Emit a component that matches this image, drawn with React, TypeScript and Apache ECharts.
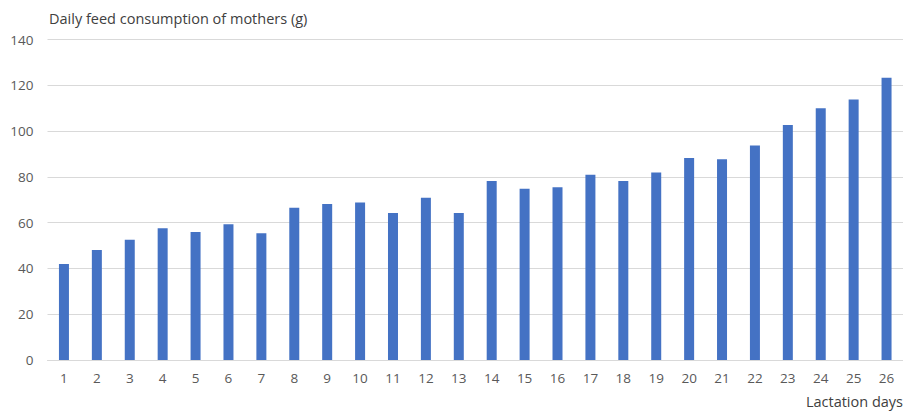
import React, { useEffect, useRef } from "react";
import * as echarts from "echarts";

// Lactation day labels
const days: string[] = [
  "1", "2", "3", "4", "5", "6", "7", "8", "9", "10", "11", "12", "13",
  "14", "15", "16", "17", "18", "19", "20", "21", "22", "23", "24", "25", "26",
];

// Daily feed consumption of mothers, grams
const feed: number[] = [
  42.0, 48.1, 52.6, 57.6, 55.9, 59.3, 55.4, 66.6, 68.2, 68.8, 64.2, 70.9, 64.2,
  78.2, 74.9, 75.5, 81.0, 78.2, 82.0, 88.3, 87.7, 93.8, 102.7, 110.0, 113.9, 123.4,
];

const yTicks = { min: 0, max: 140, interval: 20 };

const FONT = "'Open Sans', 'Noto Sans', sans-serif";

export default function App() {
  const ref = useRef<HTMLDivElement>(null);

  useEffect(() => {
    if (!ref.current) return;
    const chart = echarts.init(ref.current, undefined, { renderer: "svg" });
    chart.setOption({
      animation: false,
      backgroundColor: "#ffffff",
      title: [
        {
          text: "Daily feed consumption of mothers (g)",
          left: 49,
          top: 11,
          padding: 0,
          textStyle: { fontFamily: FONT, fontSize: 14.5, fontWeight: "normal", color: "#404040" },
        },
        {
          text: "Lactation days",
          right: 0,
          top: 394,
          padding: 0,
          textStyle: { fontFamily: FONT, fontSize: 14.5, fontWeight: "normal", color: "#404040" },
        },
      ],
      grid: { left: 47.5, top: 39.7, width: 860.5, bottom: 52 },
      xAxis: {
        type: "category",
        data: days,
        axisLine: { show: true, lineStyle: { color: "#d9d9d9", width: 1 } },
        axisTick: { show: false },
        axisLabel: { color: "#595959", fontFamily: FONT, fontSize: 13.5, margin: 11 },
      },
      yAxis: {
        type: "value",
        min: yTicks.min,
        max: yTicks.max,
        interval: yTicks.interval,
        axisLine: { show: false },
        axisTick: { show: false },
        axisLabel: { color: "#595959", fontFamily: FONT, fontSize: 13.5, margin: 14 },
        splitLine: { lineStyle: { color: "#d9d9d9", width: 1 } },
      },
      series: [
        {
          type: "bar",
          data: feed,
          barWidth: 10,
          itemStyle: { color: "#4472c4" },
        },
      ],
    });
    return () => chart.dispose();
  }, []);

  return (
    <div
      ref={ref}
      style={{ position: "fixed", left: 0, top: 0, width: 903, height: 412 }}
    />
  );
}
